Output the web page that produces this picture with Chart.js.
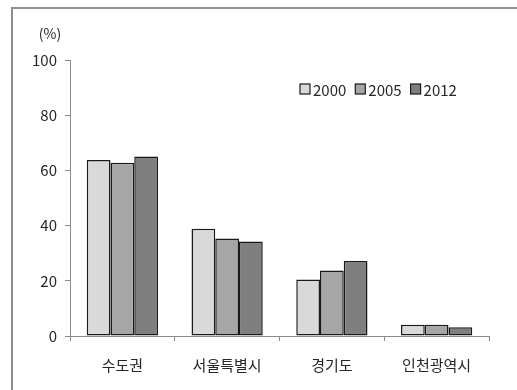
<!DOCTYPE html>
<html>
<head>
<meta charset="utf-8">
<script src="https://cdn.jsdelivr.net/npm/chart.js@4/dist/chart.umd.min.js"></script>
<style>
  html, body { margin: 0; padding: 0; background: #fff; overflow: hidden; }
  #wrap { position: relative; width: 517px; height: 390px; }
  #frame { position: absolute; left: 11px; top: 7px; width: 600px; height: 500px;
           border-left: 2px solid #8f8f8f; border-top: 2px solid #8f8f8f; box-sizing: border-box; }
  canvas { position: absolute; left: 0; top: 0; }
</style>
</head>
<body>
<div id="wrap">
  <div id="frame"></div>
  <canvas id="c" width="517" height="390"></canvas>
</div>
<script>
// Regions and yearly shares (%)
const regions = ['수도권', '서울특별시', '경기도', '인천광역시'];
const years = ['2000', '2005', '2012'];
const share2000 = [63.8, 38.9, 20.5, 4.1];
const share2005 = [62.8, 35.3, 23.7, 4.1];
const share2012 = [65.0, 34.2, 27.2, 3.2];
const yTicks = [0, 20, 40, 60, 80, 100];
const unitLabel = '(%)';

const fills = ['#d9d9d9', '#a6a6a6', '#7f7f7f'];
const FONT = '"Noto Sans CJK KR", "Noto Sans", sans-serif';
const TEXT = '#262626';

const seriesValues = [share2000, share2005, share2012];
const datasets = years.map((y, i) => ({
  label: y,
  data: seriesValues[i],
  backgroundColor: fills[i],
  borderColor: '#1a1a1a',
  borderWidth: 1.5,
  borderSkipped: false,
  categoryPercentage: 0.68,
  barPercentage: 1.0
}));

// Unit caption above the y axis and a compact legend inside the plot
const extras = {
  id: 'extras',
  afterDraw(chart) {
    const ctx = chart.ctx;
    const area = chart.chartArea;
    ctx.save();
    ctx.fillStyle = TEXT;
    ctx.font = '14px ' + FONT;
    ctx.textAlign = 'center';
    ctx.textBaseline = 'middle';
    ctx.fillText(unitLabel, area.left - 20, area.top - 26);

    let x = area.left + 230;
    const y = area.top + 29;
    ctx.font = '15px ' + FONT;
    ctx.textAlign = 'left';
    chart.data.datasets.forEach(ds => {
      ctx.fillStyle = ds.backgroundColor;
      ctx.fillRect(x, y - 5, 10, 10);
      ctx.strokeStyle = '#1a1a1a';
      ctx.lineWidth = 1.2;
      ctx.strokeRect(x, y - 5, 10, 10);
      ctx.fillStyle = TEXT;
      ctx.fillText(ds.label, x + 13, y + 1);
      x += 13 + ctx.measureText(ds.label).width + 9;
    });
    ctx.restore();
  }
};

new Chart(document.getElementById('c'), {
  type: 'bar',
  data: { labels: regions, datasets },
  options: {
    responsive: false,
    animation: false,
    devicePixelRatio: 1,
    layout: { padding: { top: 60, right: 28, left: 0, bottom: 0 } },
    plugins: { legend: { display: false }, tooltip: { enabled: false } },
    scales: {
      x: {
        grid: { display: true, drawOnChartArea: false, drawTicks: true, tickLength: 5, color: '#8a8a8a', offset: true },
        border: { color: '#8a8a8a', width: 1 },
        ticks: { color: TEXT, font: { family: FONT, size: 15 }, padding: 15, maxRotation: 0 },
        afterFit(scale) { scale.height = 54; }
      },
      y: {
        min: 0, max: 100,
        afterBuildTicks(scale) { scale.ticks = yTicks.map(v => ({ value: v })); },
        grid: { display: true, drawOnChartArea: false, drawTicks: true, tickLength: 5, color: '#8a8a8a' },
        border: { color: '#8a8a8a', width: 1 },
        ticks: { color: TEXT, font: { family: FONT, size: 15 }, padding: 8 },
        afterFit(scale) { scale.width = 70; }
      }
    }
  },
  plugins: [extras]
});
</script>
</body>
</html>
